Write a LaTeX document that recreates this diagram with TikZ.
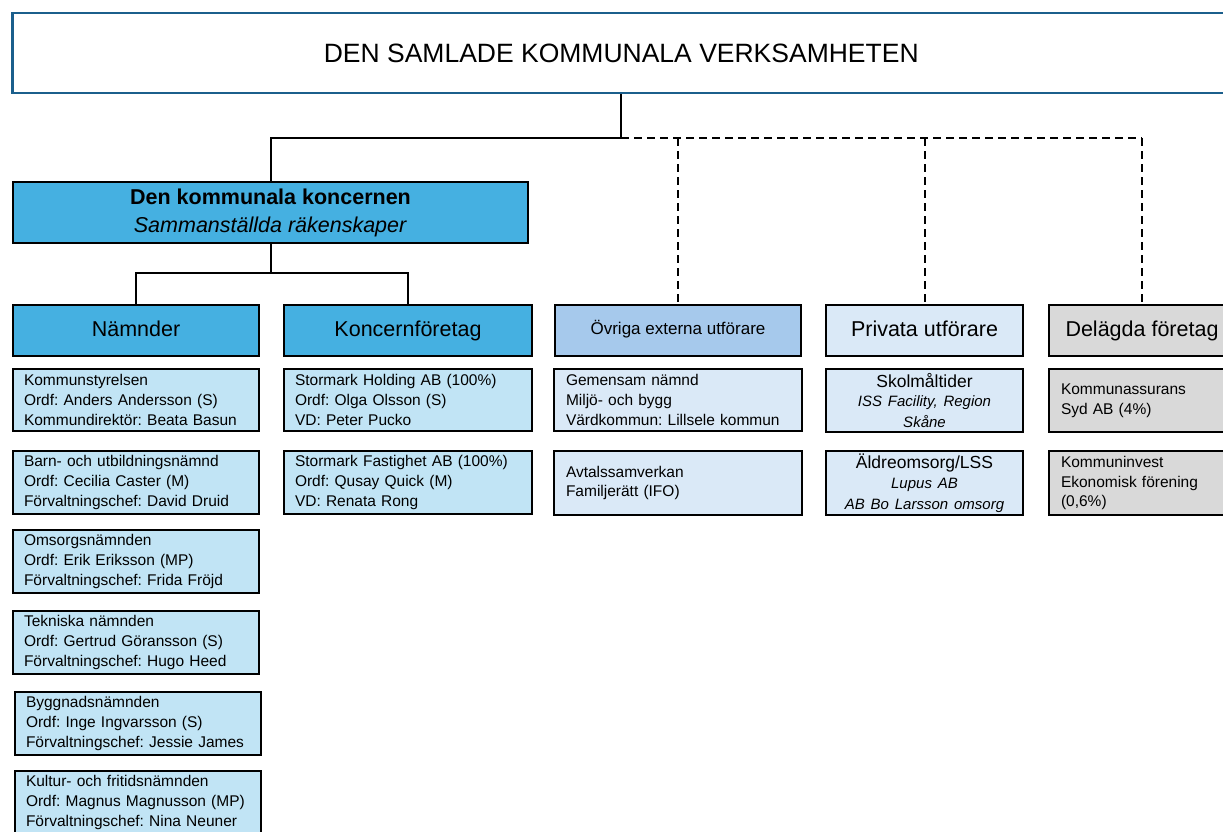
\documentclass[tikz,border=0pt]{standalone}
\usepackage{fontspec}
\setmainfont{Liberation Sans}
\frenchspacing
\definecolor{koncernblue}{HTML}{45B0E1}
\definecolor{childblue}{HTML}{C1E4F5}
\definecolor{extblue}{HTML}{A6C9EC}
\definecolor{paleblue}{HTML}{DAE9F7}
\definecolor{sharegray}{HTML}{D9D9D9}
\definecolor{frameblue}{HTML}{1B5F8C}
\begin{document}
\begin{tikzpicture}[x=1pt,y=-1pt,
	box/.style={draw=black,line width=2pt,anchor=north west,inner sep=0pt},
	headbox/.style={box,minimum height=51pt,text height=15pt,text depth=4pt,font=\fontsize{21.5}{25}\selectfont},
	listbox/.style={box,inner xsep=11pt,text width=224pt,align=left,minimum height=63pt,font=\fontsize{15.5}{19.8}\selectfont},
	privbox/.style={box,minimum width=197pt,text width=197pt,align=center,minimum height=63pt,font=\fontsize{17.5}{20.5}\selectfont},
	link/.style={line width=2pt},
	extlink/.style={line width=2pt,dash pattern=on 8pt off 5pt}]
			\useasboundingbox (0,0) rectangle (1223,832);
			\clip (0,0) rectangle (1223,832);
			\fill[white] (0,0) rectangle (1223,832);

			\node[draw=frameblue,line width=2.5pt,anchor=north west,inner sep=0pt,minimum width=1218pt,minimum height=80pt,font=\fontsize{26.5}{32}\selectfont] (top) at (11,12) {DEN SAMLADE KOMMUNALA VERKSAMHETEN};
			\node[box,fill=koncernblue,minimum width=515pt,minimum height=61pt,align=center,font=\fontsize{21.5}{28}\selectfont] (koncern) at (12,181) {\textbf{Den kommunala koncernen}\\\textit{Sammanställda räkenskaper}};

			\node[headbox,fill=koncernblue,minimum width=246pt] (namnder) at (12,304) {Nämnder};
			\node[headbox,fill=koncernblue,minimum width=248pt] (koncernf) at (283,304) {Koncernföretag};
			\node[headbox,fill=extblue,minimum width=246pt,text height=12pt,font=\fontsize{17}{20}\selectfont] (ovriga) at (554,304) {Övriga externa utförare};
			\node[headbox,fill=paleblue,minimum width=197pt] (privata) at (825,304) {Privata utförare};
			\node[headbox,fill=sharegray,minimum width=186pt] (delagda) at (1048,304) {Delägda företag};

			\node[listbox,fill=childblue,minimum height=62pt] (ks) at (12,368) {Kommunstyrelsen\\Ordf: Anders Andersson (S)\\Kommundirektör: Beata Basun};
			\node[listbox,fill=childblue] (bun) at (12,450) {Barn- och utbildningsnämnd\\Ordf: Cecilia Caster (M)\\Förvaltningschef: David Druid};
			\node[listbox,fill=childblue] (omn) at (12,529) {Omsorgsnämnden\\Ordf: Erik Eriksson (MP)\\Förvaltningschef: Frida Fröjd};
			\node[listbox,fill=childblue] (tn) at (12,610) {Tekniska nämnden\\Ordf: Gertrud Göransson (S)\\Förvaltningschef: Hugo Heed};
			\node[listbox,fill=childblue] (bn) at (14,691) {Byggnadsnämnden\\Ordf: Inge Ingvarsson (S)\\Förvaltningschef: Jessie James};
			\node[listbox,fill=childblue] (kfn) at (14,770) {Kultur- och fritidsnämnden\\Ordf: Magnus Magnusson (MP)\\Förvaltningschef: Nina Neuner};

			\node[listbox,fill=childblue,text width=226pt,minimum height=62pt] (holding) at (283,368) {Stormark Holding AB (100\%)\\Ordf: Olga Olsson (S)\\VD: Peter Pucko};
			\node[listbox,fill=childblue,text width=226pt] (fastighet) at (283,450) {Stormark Fastighet AB (100\%)\\Ordf: Qusay Quick (M)\\VD: Renata Rong};

			\node[listbox,fill=paleblue,inner xsep=12pt,minimum height=62pt] (gemensam) at (553,368) {Gemensam nämnd\\Miljö- och bygg\\Värdkommun: Lillsele kommun};
			\node[listbox,fill=paleblue,inner xsep=12pt,minimum height=64pt] (avtal) at (553,450) {Avtalssamverkan\\Familjerätt (IFO)};

			\node[privbox,fill=paleblue] (skol) at (825,368) {Skolmåltider\\{\fontsize{15}{19.5}\selectfont\itshape ISS Facility, Region\\Skåne}};
			\node[privbox,fill=paleblue,minimum height=64pt] (aldre) at (825,450) {Äldreomsorg/LSS\\{\fontsize{15}{20}\selectfont\itshape Lupus AB\\AB Bo Larsson omsorg}};

			\node[listbox,fill=sharegray,inner xsep=12pt,text width=170pt] (kassurans) at (1048,368) {Kommunassurans\\Syd AB (4\%)};
			\node[listbox,fill=sharegray,inner xsep=12pt,text width=170pt,minimum height=64pt] (kinvest) at (1048,450) {Kommuninvest\\Ekonomisk förening\\(0,6\%)};

			\coordinate (topsplit) at (0,138);
			\coordinate (subsplit) at (0,273);
			\draw[link] (top.south) -- (top.south |- topsplit) -| (koncern.north);
			\draw[extlink] (top.south |- topsplit) -- (delagda.north |- topsplit);
			\draw[extlink] (ovriga.north |- topsplit) -- (ovriga.north);
			\draw[extlink] (privata.north |- topsplit) -- (privata.north);
			\draw[extlink] (delagda.north |- topsplit) -- (delagda.north);
			\draw[link] (koncern.south) -- (koncern.south |- subsplit) -| (namnder.north);
			\draw[link] (koncern.south |- subsplit) -| (koncernf.north);
			\end{tikzpicture}
\end{document}
